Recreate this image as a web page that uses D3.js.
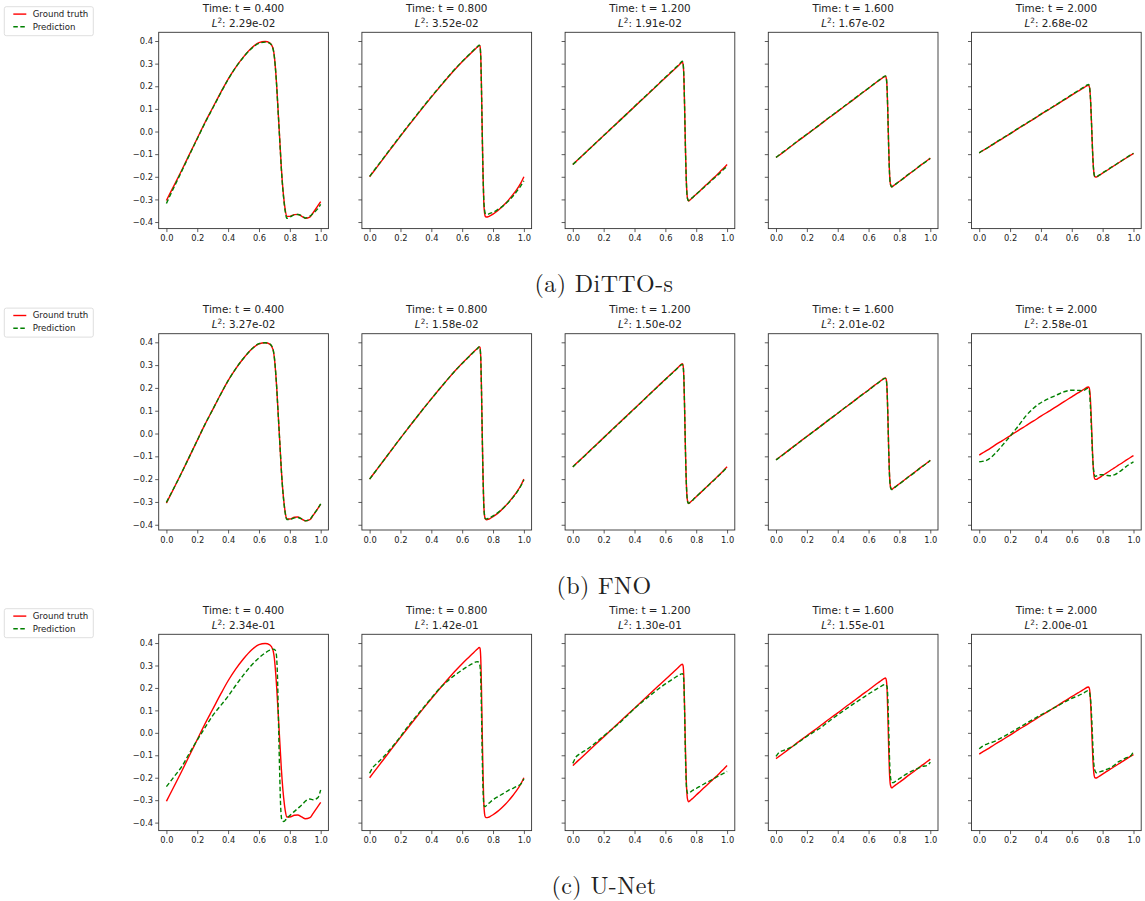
<!DOCTYPE html>
<html>
<head>
<meta charset="utf-8">
<script src="https://cdn.jsdelivr.net/npm/d3@7"></script>
<style>
body { margin: 0; background: #fff; }
svg text { font-family: "DejaVu Sans", sans-serif; fill: #222; }
</style>
</head>
<body>
<div id="chart"></div>
<script>
// shared x grid for all curves (denser around the shock)
const xs = [0, 0.02, 0.05, 0.1, 0.15, 0.2, 0.25, 0.3,
  0.35, 0.4, 0.45, 0.5, 0.55, 0.6, 0.64, 0.67,
  0.69, 0.7, 0.71, 0.715, 0.72, 0.725, 0.73, 0.735, 0.74, 0.745,
  0.75, 0.76, 0.77, 0.78, 0.8, 0.83, 0.85, 0.88, 0.9, 0.93, 0.95, 0.98, 1.0];

const times = ["0.400", "0.800", "1.200", "1.600", "2.000"];
const captions = ["(a) DiTTO-s", "(b) FNO", "(c) U-Net"];
const l2Ditto = ["2.29e-02", "3.52e-02", "1.91e-02", "1.67e-02", "2.68e-02"];
const l2Fno = ["3.27e-02", "1.58e-02", "1.50e-02", "2.01e-02", "2.58e-01"];
const l2Unet = ["2.34e-01", "1.42e-01", "1.30e-01", "1.55e-01", "2.00e-01"];
const xTicks = [0, 0.2, 0.4, 0.6, 0.8, 1.0];
const yTicks = [-0.4, -0.3, -0.2, -0.1, 0, 0.1, 0.2, 0.3, 0.4];
const yLimits = [[-0.429, 0.4385], [-0.423, 0.4377], [-0.4356, 0.439]];

// ground truth, one per time
const truth04 = [-0.305, -0.278, -0.238, -0.170, -0.100, -0.030, 0.040, 0.105,
  0.170, 0.232, 0.285, 0.330, 0.368, 0.393, 0.398, 0.392,
  0.370, 0.330, 0.250, 0.200, 0.140, 0.080, 0.020, -0.040, -0.100, -0.160,
  -0.210, -0.290, -0.345, -0.375, -0.375, -0.367, -0.366, -0.376, -0.383, -0.378, -0.360, -0.330, -0.310];
const truth08 = [-0.200, -0.182, -0.155, -0.110, -0.065, -0.020, 0.024, 0.067,
  0.110, 0.152, 0.193, 0.233, 0.272, 0.308, 0.335, 0.355,
  0.368, 0.374, 0.380, 0.378, 0.340, 0.200, 0.000, -0.180, -0.310, -0.360,
  -0.375, -0.378, -0.376, -0.373, -0.365, -0.350, -0.338, -0.318, -0.303, -0.278, -0.260, -0.228, -0.200];
const truth12 = [-0.146, -0.133, -0.114, -0.082, -0.050, -0.018, 0.014, 0.046,
  0.078, 0.110, 0.142, 0.174, 0.206, 0.238, 0.263, 0.282,
  0.295, 0.302, 0.306, 0.298, 0.240, 0.100, -0.070, -0.200, -0.275, -0.300,
  -0.307, -0.302, -0.296, -0.290, -0.277, -0.258, -0.245, -0.226, -0.213, -0.194, -0.181, -0.160, -0.146];
const truth16 = [-0.115, -0.105, -0.090, -0.064, -0.038, -0.013, 0.012, 0.038,
  0.064, 0.089, 0.115, 0.140, 0.166, 0.191, 0.212, 0.227,
  0.237, 0.242, 0.244, 0.235, 0.190, 0.080, -0.060, -0.170, -0.225, -0.240,
  -0.245, -0.240, -0.235, -0.230, -0.220, -0.205, -0.194, -0.179, -0.169, -0.153, -0.143, -0.128, -0.117];
const truth20 = [-0.095, -0.086, -0.074, -0.052, -0.031, -0.010, 0.012, 0.033,
  0.054, 0.076, 0.097, 0.118, 0.140, 0.161, 0.178, 0.190,
  0.199, 0.203, 0.204, 0.195, 0.160, 0.090, 0.000, -0.090, -0.155, -0.190,
  -0.200, -0.201, -0.197, -0.193, -0.184, -0.171, -0.162, -0.149, -0.140, -0.127, -0.118, -0.105, -0.097];

// DiTTO-s predictions
const ditto04 = [-0.318, -0.288, -0.245, -0.174, -0.102, -0.032, 0.038, 0.103,
  0.168, 0.230, 0.284, 0.329, 0.366, 0.390, 0.395, 0.390,
  0.368, 0.328, 0.250, 0.198, 0.138, 0.078, 0.018, -0.045, -0.105, -0.165,
  -0.215, -0.295, -0.352, -0.383, -0.378, -0.368, -0.367, -0.373, -0.382, -0.374, -0.362, -0.342, -0.322];
const ditto08 = [-0.198, -0.180, -0.153, -0.108, -0.063, -0.018, 0.026, 0.069,
  0.112, 0.154, 0.195, 0.235, 0.274, 0.310, 0.337, 0.357,
  0.370, 0.376, 0.382, 0.378, 0.335, 0.190, -0.010, -0.185, -0.300, -0.345,
  -0.362, -0.366, -0.365, -0.362, -0.357, -0.345, -0.336, -0.320, -0.307, -0.285, -0.268, -0.240, -0.218];
const ditto12 = [-0.146, -0.133, -0.114, -0.082, -0.050, -0.018, 0.014, 0.046,
  0.078, 0.111, 0.143, 0.175, 0.207, 0.240, 0.265, 0.285,
  0.298, 0.305, 0.311, 0.300, 0.240, 0.095, -0.075, -0.205, -0.278, -0.300,
  -0.305, -0.300, -0.295, -0.289, -0.277, -0.259, -0.247, -0.229, -0.216, -0.198, -0.186, -0.166, -0.155];
const ditto16 = [-0.114, -0.104, -0.089, -0.063, -0.037, -0.012, 0.013, 0.039,
  0.065, 0.090, 0.116, 0.141, 0.167, 0.192, 0.213, 0.228,
  0.238, 0.243, 0.246, 0.236, 0.188, 0.075, -0.065, -0.172, -0.226, -0.240,
  -0.244, -0.240, -0.235, -0.230, -0.220, -0.205, -0.194, -0.179, -0.169, -0.153, -0.143, -0.129, -0.119];
const ditto20 = [-0.094, -0.085, -0.073, -0.051, -0.030, -0.009, 0.013, 0.034,
  0.055, 0.077, 0.098, 0.119, 0.141, 0.163, 0.180, 0.193,
  0.202, 0.206, 0.208, 0.198, 0.160, 0.088, -0.002, -0.092, -0.157, -0.190,
  -0.199, -0.200, -0.196, -0.192, -0.183, -0.170, -0.161, -0.148, -0.139, -0.126, -0.117, -0.104, -0.096];

// FNO predictions
const fno04 = [-0.302, -0.276, -0.237, -0.170, -0.100, -0.030, 0.040, 0.105,
  0.170, 0.232, 0.285, 0.330, 0.368, 0.394, 0.398, 0.393,
  0.372, 0.332, 0.252, 0.200, 0.140, 0.080, 0.020, -0.040, -0.100, -0.160,
  -0.212, -0.292, -0.348, -0.377, -0.377, -0.370, -0.368, -0.375, -0.383, -0.376, -0.358, -0.330, -0.308];
const fno08 = [-0.200, -0.182, -0.155, -0.110, -0.065, -0.020, 0.024, 0.067,
  0.110, 0.152, 0.193, 0.233, 0.272, 0.307, 0.334, 0.354,
  0.367, 0.373, 0.380, 0.376, 0.335, 0.195, -0.005, -0.185, -0.312, -0.360,
  -0.373, -0.374, -0.372, -0.369, -0.361, -0.348, -0.337, -0.318, -0.304, -0.280, -0.262, -0.230, -0.203];
const fno12 = [-0.147, -0.134, -0.115, -0.083, -0.051, -0.019, 0.013, 0.045,
  0.077, 0.109, 0.141, 0.173, 0.205, 0.237, 0.262, 0.281,
  0.294, 0.300, 0.303, 0.296, 0.238, 0.098, -0.072, -0.202, -0.276, -0.300,
  -0.306, -0.302, -0.296, -0.290, -0.277, -0.258, -0.245, -0.227, -0.214, -0.195, -0.182, -0.162, -0.148];
const fno16 = [-0.116, -0.106, -0.091, -0.065, -0.039, -0.013, 0.012, 0.038,
  0.064, 0.089, 0.115, 0.140, 0.166, 0.190, 0.211, 0.226,
  0.236, 0.241, 0.242, 0.233, 0.188, 0.078, -0.062, -0.172, -0.228, -0.242,
  -0.246, -0.242, -0.236, -0.231, -0.221, -0.206, -0.195, -0.180, -0.170, -0.154, -0.144, -0.129, -0.118];
const fno20 = [-0.124, -0.122, -0.117, -0.090, -0.052, -0.012, 0.030, 0.075,
  0.110, 0.135, 0.153, 0.168, 0.183, 0.190, 0.189, 0.188,
  0.193, 0.198, 0.195, 0.180, 0.130, 0.060, -0.020, -0.100, -0.150, -0.175,
  -0.188, -0.186, -0.183, -0.181, -0.181, -0.184, -0.185, -0.180, -0.172, -0.157, -0.146, -0.132, -0.124];

// U-Net predictions
const unet04 = [-0.240, -0.222, -0.195, -0.150, -0.090, -0.032, 0.023, 0.077,
  0.120, 0.163, 0.212, 0.258, 0.300, 0.334, 0.356, 0.368,
  0.373, 0.372, 0.360, 0.330, 0.250, 0.100, -0.060, -0.200, -0.320, -0.375,
  -0.392, -0.395, -0.390, -0.382, -0.368, -0.350, -0.338, -0.320, -0.305, -0.295, -0.298, -0.290, -0.255];
const unet08 = [-0.180, -0.155, -0.135, -0.100, -0.060, -0.017, 0.030, 0.072,
  0.113, 0.155, 0.195, 0.228, 0.256, 0.280, 0.298, 0.310,
  0.316, 0.317, 0.312, 0.300, 0.250, 0.100, -0.100, -0.250, -0.315, -0.328,
  -0.328, -0.322, -0.316, -0.310, -0.298, -0.285, -0.277, -0.265, -0.256, -0.247, -0.240, -0.228, -0.205];
const unet12 = [-0.136, -0.108, -0.092, -0.070, -0.043, -0.014, 0.014, 0.042,
  0.075, 0.108, 0.138, 0.166, 0.193, 0.218, 0.236, 0.250,
  0.258, 0.262, 0.264, 0.260, 0.220, 0.080, -0.100, -0.220, -0.260, -0.270,
  -0.270, -0.265, -0.260, -0.255, -0.248, -0.236, -0.228, -0.217, -0.210, -0.198, -0.190, -0.180, -0.172];
const unet16 = [-0.105, -0.087, -0.078, -0.064, -0.040, -0.016, 0.006, 0.028,
  0.055, 0.080, 0.104, 0.128, 0.150, 0.173, 0.190, 0.203,
  0.211, 0.215, 0.216, 0.212, 0.205, 0.150, 0.030, -0.100, -0.180, -0.210,
  -0.222, -0.222, -0.218, -0.214, -0.204, -0.190, -0.182, -0.171, -0.164, -0.155, -0.149, -0.146, -0.130];
const unet20 = [-0.071, -0.060, -0.050, -0.038, -0.020, -0.001, 0.020, 0.040,
  0.060, 0.080, 0.098, 0.117, 0.136, 0.154, 0.165, 0.175,
  0.183, 0.187, 0.186, 0.180, 0.160, 0.120, 0.050, -0.030, -0.110, -0.150,
  -0.168, -0.178, -0.176, -0.174, -0.170, -0.162, -0.156, -0.142, -0.130, -0.120, -0.112, -0.104, -0.083];

const truths = [truth04, truth08, truth12, truth16, truth20];
const preds = [
  [ditto04, ditto08, ditto12, ditto16, ditto20],
  [fno04, fno08, fno12, fno16, fno20],
  [unet04, unet08, unet12, unet16, unet20]
];
const l2s = [l2Ditto, l2Fno, l2Unet];

// layout
const W = 1145, H = 901;
const left0 = 158.7, colStep = 203.2, plotW = 169.7, plotH = 196.3;
const rowTops = [32.3, 333.7, 634.3];

const svg = d3.select("#chart").append("svg")
    .attr("width", W)
    .attr("height", H);

const fmt = d3.format(".1f");

rowTops.forEach(function(top, r) {
    const y = d3.scaleLinear().domain(yLimits[r]).range([plotH, 0]);

    times.forEach(function(t, c) {
        const x = d3.scaleLinear().domain([-0.05, 1.05]).range([0, plotW]);
        const g = svg.append("g")
            .attr("transform", "translate(" + (left0 + c * colStep) + "," + top + ")");

        const xAxis = g.append("g")
            .attr("transform", "translate(0," + plotH + ")")
            .call(d3.axisBottom(x).tickValues(xTicks).tickFormat(fmt).tickSize(3.5).tickPadding(3.3));
        const yAxis = g.append("g")
            .call(d3.axisLeft(y).tickValues(yTicks)
                .tickFormat(c === 0 ? fmt : () => "").tickSize(3.5).tickPadding(2.2));

        [xAxis, yAxis].forEach(function(a) {
            a.select(".domain").remove();
            a.selectAll("line").attr("stroke", "#333").attr("stroke-width", 0.8);
            a.selectAll("text").style("font-size", "8.3px").attr("fill", "#222");
        });

        const line = d3.line()
            .x((d, i) => x(xs[i]))
            .y(d => y(d))
            .curve(d3.curveMonotoneX);

        g.append("path")
            .attr("d", line(truths[c]))
            .attr("fill", "none")
            .attr("stroke", "#ff0000")
            .attr("stroke-width", 1.4);

        g.append("path")
            .attr("d", line(preds[r][c]))
            .attr("fill", "none")
            .attr("stroke", "#008000")
            .attr("stroke-width", 1.4)
            .attr("stroke-dasharray", "4.5,2.5");

        g.append("rect")
            .attr("width", plotW)
            .attr("height", plotH)
            .attr("fill", "none")
            .attr("stroke", "#333")
            .attr("stroke-width", 0.9);

        // title: two lines
        g.append("text")
            .attr("x", plotW / 2)
            .attr("y", -20.4)
            .attr("text-anchor", "middle")
            .style("font-size", "10.4px")
            .text("Time: t = " + t);

        const t2 = g.append("text")
            .attr("x", plotW / 2)
            .attr("y", -5.6)
            .attr("text-anchor", "middle")
            .style("font-size", "10.4px");
        t2.append("tspan").style("font-style", "italic").text("L");
        t2.append("tspan").attr("dy", -4).style("font-size", "7.3px").text("2");
        t2.append("tspan").attr("dy", 4).text(": " + l2s[r][c]);
    });

    // legend
    const lg = svg.append("g").attr("transform", "translate(4.3," + (top - 25.6) + ")");
    lg.append("rect")
        .attr("width", 89)
        .attr("height", 29)
        .attr("rx", 2)
        .attr("fill", "#fff")
        .attr("stroke", "#d6d6d6")
        .attr("stroke-width", 0.8);
    const items = [["Ground truth", "#ff0000", null], ["Prediction", "#008000", "4.5,2.5"]];
    items.forEach(function(it, i) {
        const yy = 7.4 + i * 12.7;
        lg.append("line")
            .attr("x1", 9).attr("x2", 22)
            .attr("y1", yy).attr("y2", yy)
            .attr("stroke", it[1])
            .attr("stroke-width", 1.4)
            .attr("stroke-dasharray", it[2]);
        lg.append("text")
            .attr("x", 28.4)
            .attr("y", yy + 3)
            .style("font-size", "8.6px")
            .text(it[0]);
    });

    // caption
    svg.append("text")
        .attr("x", 604)
        .attr("y", top + plotH + 63.7)
        .attr("text-anchor", "middle")
        .style("font-family", "'Latin Modern Roman', 'CMU Serif', 'Liberation Serif', serif")
        .style("font-size", "24px")
        .style("letter-spacing", "0.4px")
        .attr("fill", "#111")
        .text(captions[r]);
});
</script>
</body>
</html>
